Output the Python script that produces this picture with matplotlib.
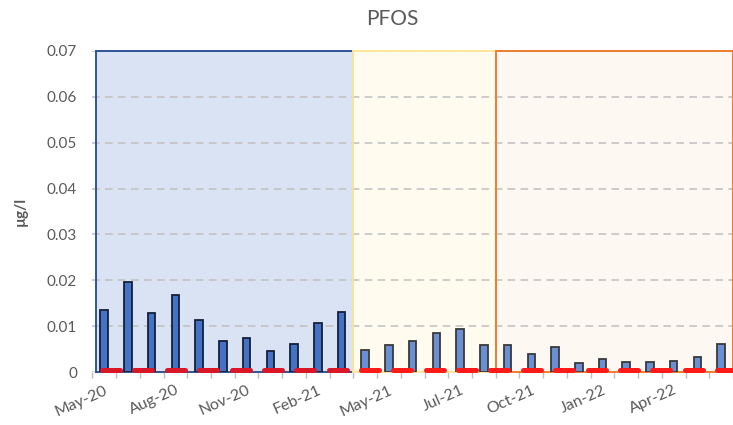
import matplotlib
matplotlib.use('Agg')
import matplotlib.pyplot as plt
import numpy as np
from matplotlib.patches import Rectangle
from matplotlib.markers import MarkerStyle

plt.rcParams['font.family'] = ['Lato', 'DejaVu Sans']

# sample dates (one category per sample)
dates = ['May-20', 'Jun-20', 'Jul-20', 'Aug-20', 'Sep-20', 'Oct-20', 'Nov-20',
         'Dec-20', 'Jan-21', 'Feb-21', 'Mar-21', 'Apr-21', 'May-21', 'Jun-21',
         'Jun-21', 'Jul-21', 'Aug-21', 'Sep-21', 'Oct-21', 'Nov-21', 'Dec-21',
         'Jan-22', 'Feb-22', 'Mar-22', 'Apr-22', 'May-22', 'Jun-22']

# PFOS (ug/l)
pfos = [0.0135, 0.0197, 0.0129, 0.0168, 0.0114, 0.0068, 0.0074, 0.0046, 0.0060,
        0.0107, 0.0131,
        0.0049, 0.0058, 0.0068, 0.0084, 0.0094, 0.0058,
        0.0058, 0.0040, 0.0054, 0.0019, 0.0028, 0.0022, 0.0022, 0.0024,
        0.0033, 0.0060]

# second series (red dashes), on its own 20-step axis
red_vals = [0.0004, 0.0004, 0.0004, 0.0004, 0.0004, 0.0004, 0.0004, 0.0004,
            0.0004, 0.0004, 0.0004, 0.0004, 0.0004, 0.0004, 0.0004, 0.0004,
            0.0004, 0.0004, 0.0004, 0.0004]

n_blue = 11
n_yellow = 6

fig = plt.figure(figsize=(7.33, 4.25), dpi=100)
ax = fig.add_axes([0.126, 0.1247, 0.874, 0.7553])

x = np.arange(len(pfos))
ymax = 0.07

# background periods
edges = [-0.34, n_blue - 0.5, n_blue + n_yellow - 0.5, len(pfos) - 0.5]
fills = ['#DAE3F3', '#FFFBEE', '#FEF8F3']
borders = ['#2F5597', '#FFE699', '#ED7D31']
for i in range(3):
    ax.add_patch(Rectangle((edges[i], 0), edges[i + 1] - edges[i], ymax,
                           facecolor=fills[i], edgecolor='none', zorder=0))

# gridlines
ax.set_ylim(0, ymax)
ax.set_xlim(-0.5, len(pfos) - 0.5)
ax.set_yticks(np.arange(0, 0.071, 0.01))
ax.yaxis.grid(True, color='#BFBFBF', linestyle=(0, (5, 3.5)), linewidth=1.1, zorder=1)
ax.set_axisbelow(True)

for i in range(3):
    ax.add_patch(Rectangle((edges[i], 0), edges[i + 1] - edges[i], ymax,
                           facecolor='none', edgecolor=borders[i], linewidth=1.4,
                           zorder=2, clip_on=False))

bar_cols = ['#4472C4'] * n_blue + ['#6A8FD2'] * (len(pfos) - n_blue)
edge_cols = ['#15203A'] * n_blue + ['#3A3A3A'] * (len(pfos) - n_blue)
ax.bar(x, pfos, width=0.32, color=bar_cols, edgecolor=edge_cols, linewidth=1.3, zorder=3)

red_x = 0.29 + 1.364 * np.arange(len(red_vals))
red_y = np.array(red_vals)
dash = MarkerStyle('_', capstyle='round')
in_blue = red_x < edges[1]
ax.plot(red_x[in_blue], red_y[in_blue], ls='none', marker=dash, ms=13, mew=3.6,
        color='#D91727', zorder=4)
ax.plot(red_x[~in_blue], red_y[~in_blue], ls='none', marker=dash, ms=13, mew=3.6,
        color='#FF1A1A', zorder=4)

# axes text
for s in ax.spines.values():
    s.set_visible(False)
ax.set_yticklabels(['0', '0.01', '0.02', '0.03', '0.04', '0.05', '0.06', '0.07'])
ax.tick_params(axis='y', length=0, pad=11, labelsize=11, labelcolor='#595959')

ax.set_xticks(x[::3])
ax.set_xticklabels(dates[::3], rotation=24, ha='right', va='top', rotation_mode='anchor')
ax.set_xticks(np.arange(-0.5, len(pfos), 1), minor=True)
ax.tick_params(axis='x', which='major', length=0, pad=8, labelsize=11.5, labelcolor='#595959')
ax.tick_params(axis='x', which='minor', length=4, width=1, color='#BFBFBF')

ax.set_ylabel('µg/l', fontsize=11, fontweight='bold', color='#595959', labelpad=14)
fig.text(0.535, 0.955, 'PFOS', ha='center', va='center', fontsize=15, color='#595959')

fig.savefig('out.png', dpi=100)
